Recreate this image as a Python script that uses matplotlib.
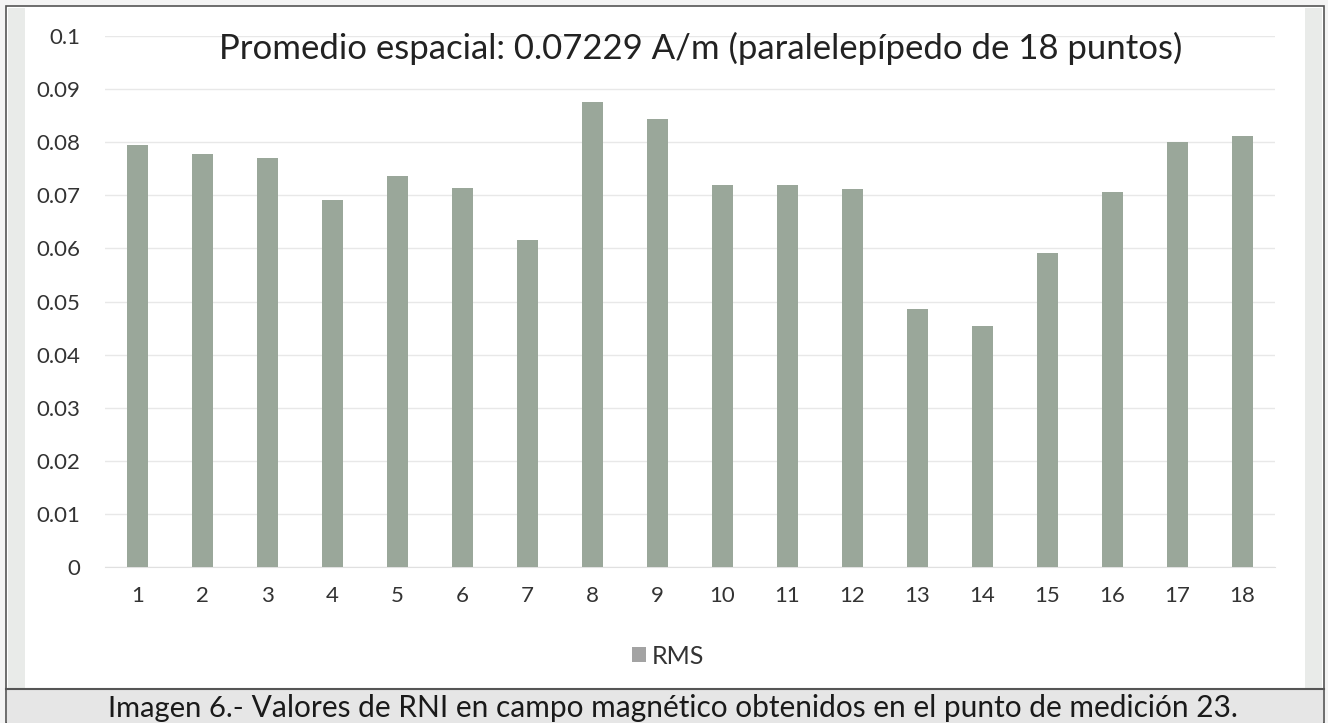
import matplotlib
matplotlib.use("Agg")
import matplotlib.pyplot as plt
from matplotlib.patches import Rectangle
from matplotlib.lines import Line2D

plt.rcParams['font.family'] = ['Lato', 'DejaVu Sans']

categories = [str(i) for i in range(1, 19)]
rms = [0.0795, 0.0778, 0.0770, 0.0692, 0.0736, 0.0714, 0.0616, 0.0876, 0.0844,
       0.0719, 0.0720, 0.0711, 0.0486, 0.0453, 0.0592, 0.0706, 0.0801, 0.0812]
yticks = [0, 0.01, 0.02, 0.03, 0.04, 0.05, 0.06, 0.07, 0.08, 0.09, 0.1]
ytick_labels = ['0', '0.01', '0.02', '0.03', '0.04', '0.05', '0.06', '0.07', '0.08', '0.09', '0.1']
title = "Promedio espacial: 0.07229 A/m (paralelepípedo de 18 puntos)"
legend_label = "RMS"
caption_bold = "Imagen 6.-"
caption_rest = " Valores de RNI en campo magnético obtenidos en el punto de medición 23."

W, H = 1328, 723
fig = plt.figure(figsize=(W / 100, H / 100), dpi=100)
fig.patch.set_facecolor('white')

def px_rect(x0, y0, x1, y1, **kw):
    r = Rectangle((x0 / W, 1 - y1 / H), (x1 - x0) / W, (y1 - y0) / H,
                  transform=fig.transFigure, **kw)
    fig.add_artist(r)

px_rect(0, 0, W, H, facecolor='#f4f4f4', edgecolor='none', zorder=-10)
px_rect(6, 6, 1324, 723, facecolor='white', edgecolor='#555555', linewidth=1.2, zorder=-9)
px_rect(8, 8, 25, 688, facecolor='#e9ebe9', edgecolor='none', zorder=-8)
px_rect(1305, 8, 1322, 688, facecolor='#e9ebe9', edgecolor='none', zorder=-8)
px_rect(7, 689, 1323, 723, facecolor='#e6e6e6', edgecolor='none', zorder=-8)
fig.add_artist(Line2D([6 / W, 1324 / W], [1 - 689 / H, 1 - 689 / H],
                      transform=fig.transFigure, color='#555555', linewidth=1.5))

ax = fig.add_axes([105 / W, 1 - 567 / H, 1170 / W, 531 / H])
ax.set_facecolor('none')
x = list(range(len(categories)))
ax.bar(x, rms, width=0.31, color='#9aa79a', zorder=3, label=legend_label)
ax.set_xlim(-0.5, len(categories) - 0.5)
ax.set_ylim(0, 0.1)
ax.set_yticks(yticks)
ax.set_yticklabels(ytick_labels)
ax.set_xticks(x)
ax.set_xticklabels(categories)
ax.grid(axis='y', color='#e8e8e8', linewidth=1.0, zorder=0)
for s in ax.spines.values():
    s.set_visible(False)
ax.spines['bottom'].set_visible(True)
ax.spines['bottom'].set_color('#e0e0e0')
ax.tick_params(axis='both', length=0, labelsize=16, colors='#333333')
ax.tick_params(axis='y', pad=18)
ax.tick_params(axis='x', pad=14)

fig.text(701 / W, 1 - 48 / H, title, ha='center', va='center', fontsize=25, color='#222222')

leg = ax.legend(loc='center', bbox_to_anchor=(668 / W, 1 - 656 / H),
                bbox_transform=fig.transFigure, frameon=False, fontsize=18,
                handlelength=0.55, handleheight=0.55, handletextpad=0.25, labelcolor='#333333')
leg.get_patches()[0].set_facecolor('#a3a3a3')

t1 = fig.text(108 / W, 1 - 717 / H, caption_bold, ha='left', va='baseline',
              fontsize=21, color='#1a1a1a')
ax.annotate(caption_rest, xy=(1, 0), xycoords=t1, ha='left', va='bottom',
            fontsize=21.5, color='#1a1a1a', annotation_clip=False)

fig.savefig('out.png', dpi=100)
